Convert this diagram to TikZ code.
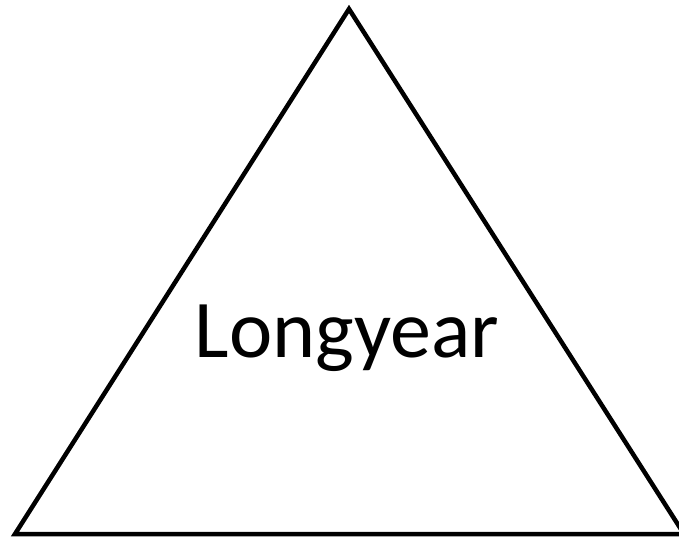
\documentclass[tikz,border=0pt]{standalone}
\usepackage{fontspec}
\setmainfont{Carlito}
\usetikzlibrary{positioning}
\tikzset{
  every picture/.style={line join=miter, line cap=butt},
  edge/.style={line width=4.5pt},
  label/.style={font=\fontsize{82}{94}\selectfont, inner sep=0pt, anchor=base},
}
\begin{document}
\begin{tikzpicture}[x=1pt,y=-1pt]
\useasboundingbox (0,0) rectangle (679,540);
\coordinate (apex) at (349,9);
\coordinate (left) at (15,534);
\coordinate (right) at (684,534);
\draw[edge] (apex) -- (right) -- (left) -- cycle;
\node[label] (name) at (347,357) {Longyear};
\end{tikzpicture}
\end{document}
